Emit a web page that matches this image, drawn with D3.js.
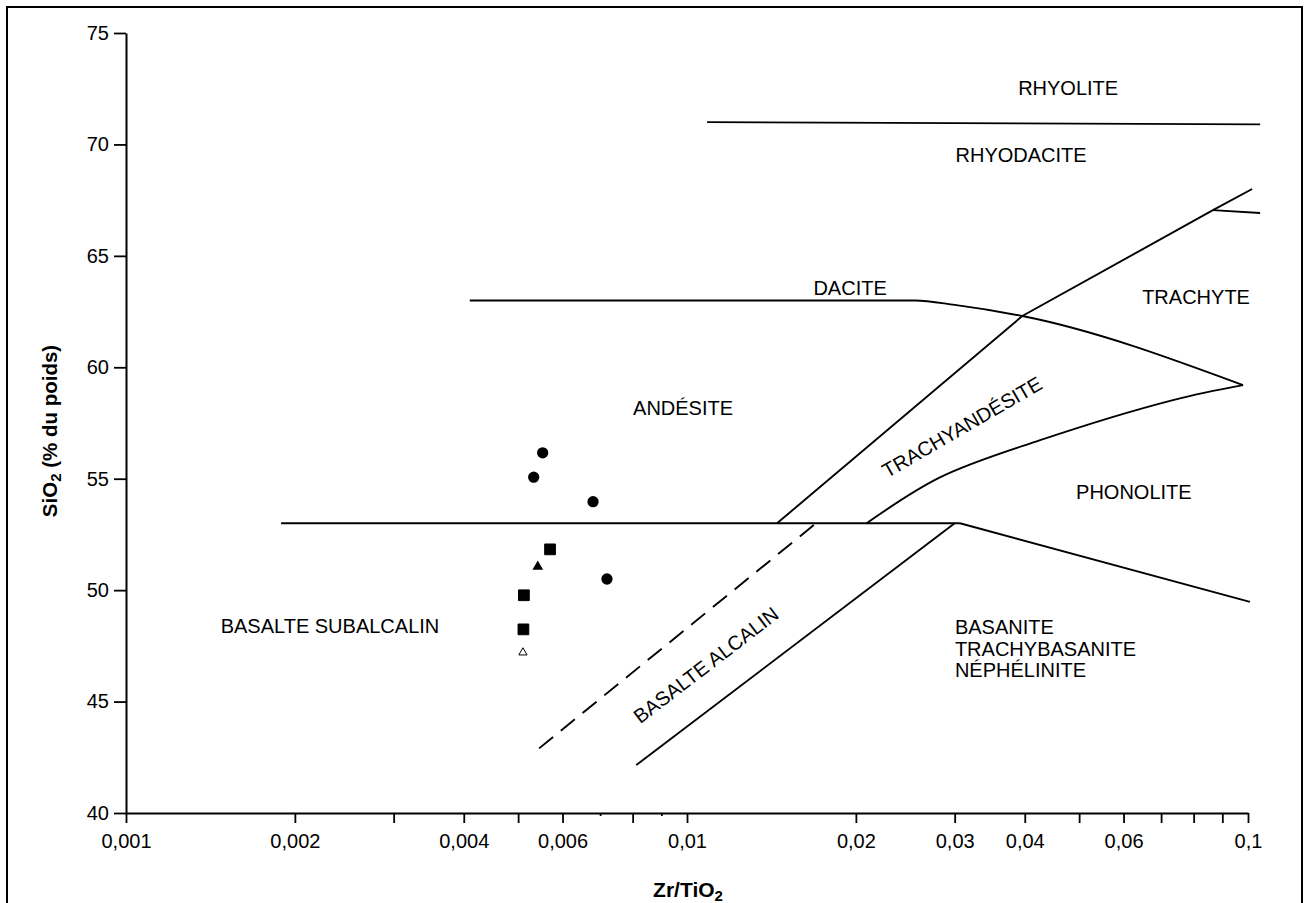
<!DOCTYPE html>
<html>
<head>
<meta charset="utf-8">
<script src="https://cdn.jsdelivr.net/npm/d3@7"></script>
<style>
  body { margin: 0; background: #fff; }
  text { font-family: "Liberation Sans", Arial, sans-serif; fill: #000; }
</style>
</head>
<body>
<svg id="chart" width="1307" height="903"></svg>
<script>
// axis ticks
let xMajorTicks = [0.001, 0.002, 0.004, 0.006, 0.01, 0.02, 0.03, 0.04, 0.06, 0.1];
let xMinorTicks = [0.003, 0.005, 0.008, 0.05, 0.07, 0.08, 0.09];
let xTinyTicks = [0.007, 0.009];
let yTicks = [40, 45, 50, 55, 60, 65, 70, 75];

// field boundaries [Zr/TiO2, SiO2]
let rhyoliteLine = [[0.01086, 71.0], [0.1051, 70.9]];
let daciteLine = [[0.0041, 63.0], [0.0255, 63.0], [0.030, 62.8], [0.0396, 62.3], [0.098, 59.2]];
let phonoliteTop = [[0.0209, 53.0], [0.0283, 55.07], [0.0426, 56.73], [0.0735, 58.53], [0.098, 59.2]];
let trachyLine = [[0.01447, 53.0], [0.0396, 62.3], [0.0866, 67.05], [0.1017, 68.0]];
let trachyteBranch = [[0.0866, 67.05], [0.1051, 66.92]];
let subalcLine = [[0.00189, 53.0], [0.03066, 53.0]];
let basaniteTop = [[0.03066, 53.0], [0.1008, 49.47]];
let alcalinLine = [[0.00812, 42.15], [0.0300, 53.0]];
let dashedLine = [[0.00545, 42.9], [0.01698, 53.0]];

// samples
let circles = [[0.00553, 56.16], [0.00533, 55.07], [0.0068, 53.97], [0.0072, 50.5]];
let squares = [[0.0057, 51.83], [0.00512, 49.77], [0.00511, 48.24]];
let triangles = [[0.00542, 51.05]];
let openTriangles = [[0.0051, 47.2]];

// field names [text, Zr/TiO2, SiO2]
let fieldNames = [
    ["RHYOLITE", 0.0478, 72.21],
    ["RHYODACITE", 0.0394, 69.21],
    ["DACITE", 0.01953, 63.24],
    ["TRACHYTE", 0.0808, 62.84],
    ["ANDÉSITE", 0.00984, 57.86],
    ["PHONOLITE", 0.0626, 54.09],
    ["BASALTE SUBALCALIN", 0.00231, 48.08]
];
let basaniteNames = [["BASANITE", 48.03], ["TRACHYBASANITE", 47.04], ["NÉPHÉLINITE", 46.10]];
let basaniteX = 0.03003;

let svg = d3.select("#chart");

// frame
svg.append("rect")
    .attr("x", 7).attr("y", 7)
    .attr("width", 1295).attr("height", 920)
    .attr("fill", "none")
    .attr("stroke", "#000")
    .attr("stroke-width", 2);

let x = d3.scaleLog().domain([0.001, 0.1]).range([126, 1248]);
let y = d3.scaleLinear().domain([40, 75]).range([813, 33]);

let fr = d3.formatLocale({ decimal: ",", thousands: " ", grouping: [3], currency: ["", ""] });
let fmt = fr.format("~g");

// y axis
svg.append("g")
    .attr("transform", "translate(126,0)")
    .call(d3.axisLeft(y).tickValues(yTicks).tickSize(12).tickSizeOuter(0).tickPadding(5));

// x axis
svg.append("g")
    .attr("transform", "translate(0,813)")
    .call(d3.axisBottom(x).tickValues(xMajorTicks).tickFormat(fmt)
        .tickSize(10).tickSizeOuter(0).tickPadding(11));

svg.append("g")
    .attr("transform", "translate(0,813)")
    .call(d3.axisBottom(x).tickValues(xMinorTicks).tickFormat("").tickSize(10).tickSizeOuter(0))
    .select(".domain").remove();

svg.append("g")
    .attr("transform", "translate(0,813)")
    .call(d3.axisBottom(x).tickValues(xTinyTicks).tickFormat("").tickSize(3).tickSizeOuter(0))
    .select(".domain").remove();

svg.selectAll(".domain").attr("stroke-width", 2);
svg.selectAll(".tick line").attr("stroke-width", 1.8);
svg.selectAll(".tick text").style("font-size", "20px").style("font-family", "Liberation Sans, Arial, sans-serif");

// axis titles
svg.append("text")
    .attr("x", 688).attr("y", 897)
    .attr("text-anchor", "middle")
    .style("font-size", "21px").style("font-weight", "bold")
    .html('Zr/TiO<tspan dy="4" style="font-size:15px">2</tspan>');

svg.append("text")
    .attr("transform", "translate(57,431) rotate(-90)")
    .attr("text-anchor", "middle")
    .style("font-size", "20.5px").style("font-weight", "bold")
    .html('SiO<tspan dy="4" style="font-size:15px">2</tspan><tspan dy="-4"> (% du poids)</tspan>');

// boundaries
let line = d3.line().x(d => x(d[0])).y(d => y(d[1]));
let curve = d3.line().x(d => x(d[0])).y(d => y(d[1])).curve(d3.curveMonotoneX);
let smooth = d3.line().x(d => x(d[0])).y(d => y(d[1])).curve(d3.curveCatmullRom.alpha(0.5));

let gl = svg.append("g")
    .attr("fill", "none")
    .attr("stroke", "#000")
    .attr("stroke-width", 1.9);

[rhyoliteLine, trachyLine, trachyteBranch, subalcLine, basaniteTop, alcalinLine].forEach(function (pts) {
    gl.append("path").attr("d", line(pts));
});
gl.append("path").attr("d", curve(daciteLine));
gl.append("path").attr("d", smooth(phonoliteTop));
gl.append("path").attr("d", line(dashedLine)).attr("stroke-dasharray", "18,10");

// field labels
svg.append("g").selectAll("text")
    .data(fieldNames)
    .enter().append("text")
    .attr("x", d => x(d[1]))
    .attr("y", d => y(d[2]))
    .attr("text-anchor", "middle")
    .style("font-size", "20px")
    .text(d => d[0]);

svg.append("g").selectAll("text")
    .data(basaniteNames)
    .enter().append("text")
    .attr("x", x(basaniteX))
    .attr("y", d => y(d[1]))
    .style("font-size", "20px")
    .text(d => d[0]);

svg.append("text")
    .attr("transform", "translate(" + x(0.03093) + "," + y(57.32) + ") rotate(-30)")
    .attr("text-anchor", "middle")
    .attr("dy", "0.35em")
    .style("font-size", "20px")
    .text("TRACHYANDÉSITE");

svg.append("text")
    .attr("transform", "translate(" + x(0.01081) + "," + y(46.64) + ") rotate(-37.5)")
    .attr("text-anchor", "middle")
    .attr("dy", "0.35em")
    .style("font-size", "20px")
    .text("BASALTE ALCALIN");

// samples
let gp = svg.append("g");
let sym = function (type, size) { return d3.symbol().type(type).size(size)(); };

gp.selectAll(".c").data(circles).enter().append("path")
    .attr("d", sym(d3.symbolCircle, 100))
    .attr("transform", d => "translate(" + x(d[0]) + "," + y(d[1]) + ")");

gp.selectAll(".s").data(squares).enter().append("path")
    .attr("d", sym(d3.symbolSquare, 115))
    .attr("stroke", "#000").attr("stroke-linejoin", "round").attr("stroke-width", 1)
    .attr("transform", d => "translate(" + x(d[0]) + "," + y(d[1]) + ")");

gp.selectAll(".t").data(triangles).enter().append("path")
    .attr("d", sym(d3.symbolTriangle, 50))
    .attr("transform", d => "translate(" + x(d[0]) + "," + y(d[1]) + ")");

gp.selectAll(".o").data(openTriangles).enter().append("path")
    .attr("d", sym(d3.symbolTriangle, 30))
    .attr("fill", "#fff").attr("stroke", "#000").attr("stroke-width", 1)
    .attr("transform", d => "translate(" + x(d[0]) + "," + y(d[1]) + ")");
</script>
</body>
</html>
